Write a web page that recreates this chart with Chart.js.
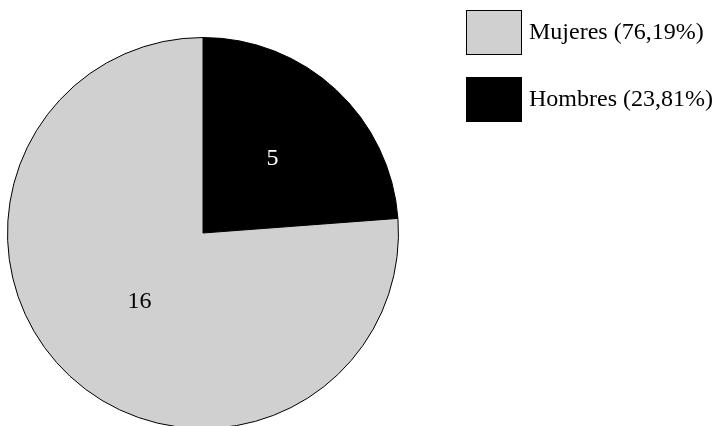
<!DOCTYPE html>
<html>
<head>
<meta charset="utf-8">
<script src="https://cdn.jsdelivr.net/npm/chart.js@4.4.1/dist/chart.umd.min.js"></script>
<style>
  html, body { margin: 0; padding: 0; background: #fff; }
  .wrap { width: 715px; height: 426px; overflow: hidden; position: relative; }
  canvas { position: absolute; left: 0; top: 0; }
</style>
</head>
<body>
<div class="wrap">
  <canvas id="pie" width="715" height="440"></canvas>
</div>
<script>
// slice order follows the picture: black slice starts at 12 o'clock
const categories = ["Hombres", "Mujeres"];
const values = [5, 16];
const percents = ["23,81%", "76,19%"];
const sliceColors = ["#000000", "#d0d0d0"];
const labelColors = ["#ffffff", "#000000"];
const legendOrder = [1, 0]; // Mujeres listed first

const serif = '"Liberation Serif", "Times New Roman", serif';

// value labels inside each slice
const sliceLabels = {
  id: "sliceLabels",
  afterDatasetsDraw(chart) {
    const ctx = chart.ctx;
    const arcs = chart.getDatasetMeta(0).data;
    ctx.save();
    ctx.font = "24px " + serif;
    ctx.textAlign = "center";
    ctx.textBaseline = "middle";
    arcs.forEach((arc, i) => {
      const p = arc.tooltipPosition();
      ctx.fillStyle = labelColors[i];
      ctx.fillText(String(values[i]), p.x + 3, p.y - 3);
    });
    ctx.restore();
  }
};

// legend boxes on the right
const sideLegend = {
  id: "sideLegend",
  afterDraw(chart) {
    const ctx = chart.ctx;
    const x = 466, boxW = 56, boxH = 45;
    const tops = [10, 77];
    ctx.save();
    ctx.font = "24px " + serif;
    ctx.textBaseline = "middle";
    ctx.textAlign = "left";
    legendOrder.forEach((idx, row) => {
      const y = tops[row];
      ctx.fillStyle = sliceColors[idx];
      ctx.fillRect(x, y, boxW, boxH);
      ctx.strokeStyle = "#000";
      ctx.lineWidth = 1;
      ctx.strokeRect(x + 0.5, y + 0.5, boxW - 1, boxH - 1);
      ctx.fillStyle = "#000";
      ctx.fillText(categories[idx] + " (" + percents[idx] + ")", x + 63, y + boxH / 2);
    });
    ctx.restore();
  }
};

new Chart(document.getElementById("pie"), {
  type: "pie",
  data: {
    labels: categories,
    datasets: [{
      data: values,
      backgroundColor: sliceColors,
      borderColor: "#000000",
      borderWidth: 1
    }]
  },
  options: {
    responsive: false,
    animation: false,
    layout: { padding: { left: 7, top: 37, right: 316, bottom: 11 } },
    plugins: {
      legend: { display: false },
      tooltip: { enabled: false }
    }
  },
  plugins: [sliceLabels, sideLegend]
});
</script>
</body>
</html>
